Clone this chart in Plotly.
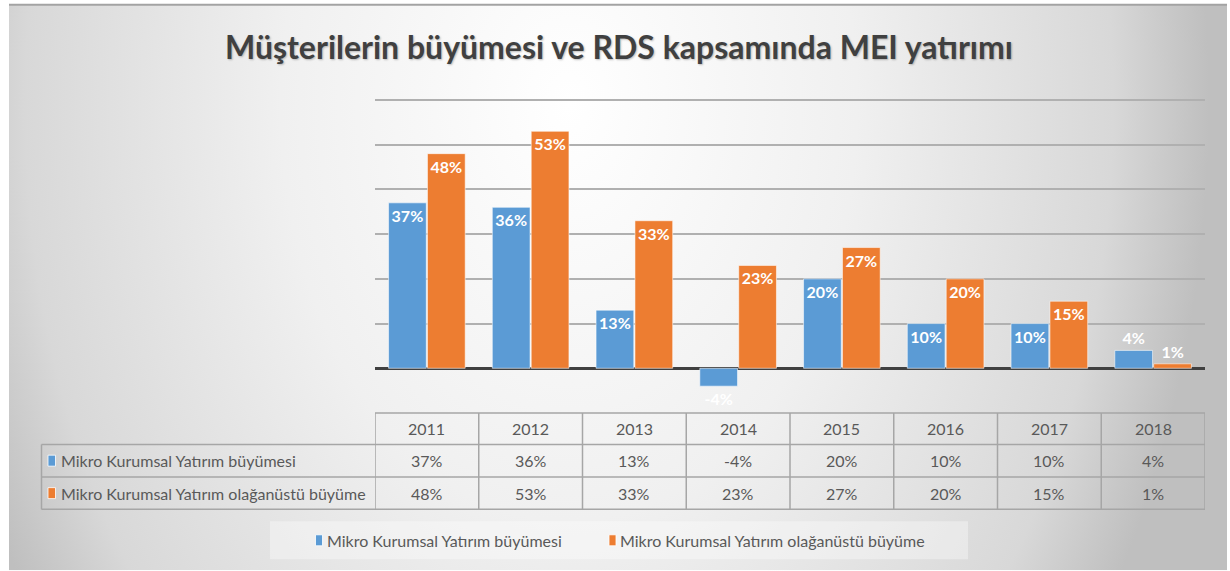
import base64
import plotly.graph_objects as go

# ---------------- data ----------------
years = ["2011", "2012", "2013", "2014", "2015", "2016", "2017", "2018"]
growth = [37, 36, 13, -4, 20, 10, 10, 4]          # Mikro Kurumsal Yatırım büyümesi (%)
extra_growth = [48, 53, 33, 23, 27, 20, 15, 1]    # Mikro Kurumsal Yatırım olağanüstü büyüme (%)
series_names = ["Mikro Kurumsal Yatırım büyümesi",
                "Mikro Kurumsal Yatırım olağanüstü büyüme"]
title_text = "Müşterilerin büyümesi ve RDS kapsamında MEI yatırımı"

# ---------------- style ----------------
BLUE = "#5B9BD5"
ORANGE = "#ED7D31"
TXT = "#595959"
GRID = "#b0b0b0"
TABLE_LINE = "#a6a6a6"
FONT = "Lato, Open Sans, sans-serif"

W, H = 1230, 571
L, R, T, B = 375, 25, 98, 157.5
pw, ph = W - L - R, H - T - B


def px2x(px):
    return (px - L) / pw


def py2y(py):
    return (H - B - py) / ph


def pct(v):
    return f"{v}%"


fig = go.Figure()
for vals, name, color in [(growth, series_names[0], BLUE),
                          (extra_growth, series_names[1], ORANGE)]:
    fig.add_trace(go.Bar(
        x=years, y=[v / 100 for v in vals], name=name,
        marker=dict(color=color, line=dict(color="rgba(255,255,255,0.55)", width=1)),
        text=[pct(v) for v in vals],
        textposition=["outside" if v < 5 else "inside" for v in vals],
        insidetextanchor="end",
        constraintext="none",
        textfont=dict(family=FONT, size=16, color="white", weight="bold"),
        hoverinfo="skip",
        cliponaxis=False,
        showlegend=False,
    ))

# ---------------- background (radial gradient) ----------------
svg = """<svg xmlns='http://www.w3.org/2000/svg' width='1218' height='567' viewBox='0 0 1218 567' preserveAspectRatio='none'>
<defs><radialGradient id='g' gradientUnits='userSpaceOnUse' cx='560' cy='100' r='640'
 gradientTransform='translate(560,100) scale(1,1.45) translate(-560,-100)'>
<stop offset='0' stop-color='#ffffff'/><stop offset='0.45' stop-color='#f0f0f0'/>
<stop offset='0.85' stop-color='#d8d8d8'/><stop offset='1' stop-color='#bfbfbf'/></radialGradient></defs>
<rect x='0' y='0' width='1218' height='567' fill='url(#g)'/></svg>"""
src = "data:image/svg+xml;base64," + base64.b64encode(svg.encode()).decode()

shapes = []
annotations = []

# top border line of the chart frame
shapes.append(dict(type="line", xref="paper", yref="paper", x0=px2x(9), x1=px2x(1227),
                   y0=py2y(4.5), y1=py2y(4.5), line=dict(color="#a3a3a3", width=2), layer="below"))

# ---------------- data table ----------------
y_head_top, y_head_bot, y_r1_bot, y_r2_bot = 413.5, 445, 477.5, 510
x_label_left = 41.5
line = dict(color=TABLE_LINE, width=1.5)
shapes.append(dict(type="line", xref="paper", yref="paper", x0=0, x1=1,
                   y0=py2y(y_head_top), y1=py2y(y_head_top), line=line))
for yy in (y_head_bot, y_r1_bot, y_r2_bot):
    shapes.append(dict(type="line", xref="paper", yref="paper", x0=px2x(x_label_left), x1=1,
                       y0=py2y(yy), y1=py2y(yy), line=line))
shapes.append(dict(type="line", xref="paper", yref="paper", x0=px2x(x_label_left), x1=px2x(x_label_left),
                   y0=py2y(y_head_bot), y1=py2y(y_r2_bot), line=line))
for k in range(len(years) + 1):
    shapes.append(dict(type="line", xref="x", yref="paper", x0=k - 0.5, x1=k - 0.5,
                       y0=py2y(y_head_top), y1=py2y(y_r2_bot), line=line))

cell_font = dict(family=FONT, size=16, color=TXT)
for i, yr in enumerate(years):
    for text, (yt, yb) in [(yr, (y_head_top, y_head_bot)),
                           (pct(growth[i]), (y_head_bot, y_r1_bot)),
                           (pct(extra_growth[i]), (y_r1_bot, y_r2_bot))]:
        annotations.append(dict(x=i, xref="x", xanchor="center",
                                y=py2y((yt + yb) / 2), yref="paper", yanchor="middle",
                                text=text, showarrow=False, font=cell_font))

for (yt, yb), name, color in [((y_head_bot, y_r1_bot), series_names[0], BLUE),
                              ((y_r1_bot, y_r2_bot), series_names[1], ORANGE)]:
    yc = (yt + yb) / 2
    shapes.append(dict(type="rect", xref="paper", yref="paper", x0=px2x(48), x1=px2x(55.5),
                       y0=py2y(yc - 5.5), y1=py2y(yc + 5.5), fillcolor=color,
                       line=dict(color="rgba(255,255,255,0.8)", width=1)))
    annotations.append(dict(x=px2x(59), xref="paper", xanchor="left",
                            y=py2y(yc), yref="paper", yanchor="middle",
                            text=name, showarrow=False, font=cell_font))

# ---------------- legend (box + keys) ----------------
shapes.append(dict(type="rect", xref="paper", yref="paper", x0=px2x(270), x1=px2x(968),
                   y0=py2y(522), y1=py2y(560), fillcolor="rgba(255,255,255,0.35)",
                   line=dict(width=0), layer="below"))
leg_y = 541
for key_x, name, color in [(315.5, series_names[0], BLUE), (609, series_names[1], ORANGE)]:
    shapes.append(dict(type="rect", xref="paper", yref="paper", x0=px2x(key_x), x1=px2x(key_x + 7),
                       y0=py2y(leg_y - 5.5), y1=py2y(leg_y + 5.5), fillcolor=color,
                       line=dict(color="rgba(255,255,255,0.8)", width=1)))
    annotations.append(dict(x=px2x(key_x + 9), xref="paper", xanchor="left",
                            y=py2y(leg_y), yref="paper", yanchor="middle",
                            text=name, showarrow=False, font=cell_font))

fig.update_layout(
    width=W, height=H,
    margin=dict(l=L, r=R, t=T, b=B, pad=0),
    paper_bgcolor="white", plot_bgcolor="rgba(0,0,0,0)",
    barmode="group", bargap=0.25, bargroupgap=0.03,
    title=dict(text=title_text, x=619 / W, xref="container", xanchor="center",
               y=1 - 48 / H, yref="container", yanchor="middle",
               font=dict(family=FONT, size=32, color="#404040", weight="bold",
                         shadow="1px 1px 2px rgba(0,0,0,0.25)")),
    xaxis=dict(type="category", range=[-0.5, len(years) - 0.5], showticklabels=False,
               showgrid=False, zeroline=False, showline=False, ticks=""),
    yaxis=dict(range=[-0.1, 0.6045], tickvals=[0.1, 0.2, 0.3, 0.4, 0.5, 0.6], showticklabels=False,
               showgrid=True, gridcolor=GRID, gridwidth=1.5,
               zeroline=True, zerolinecolor="#404040", zerolinewidth=2.5, showline=False, ticks=""),
    showlegend=False,
    images=[dict(source=src, xref="paper", yref="paper", x=px2x(9), y=py2y(4),
                 sizex=1218 / pw, sizey=567 / ph, sizing="stretch", layer="below",
                 xanchor="left", yanchor="top")],
    shapes=shapes, annotations=annotations,
)

fig.write_html("out.html", config={"displayModeBar": False},
               post_script="document.body.style.margin='0';document.body.style.overflow='hidden';")
